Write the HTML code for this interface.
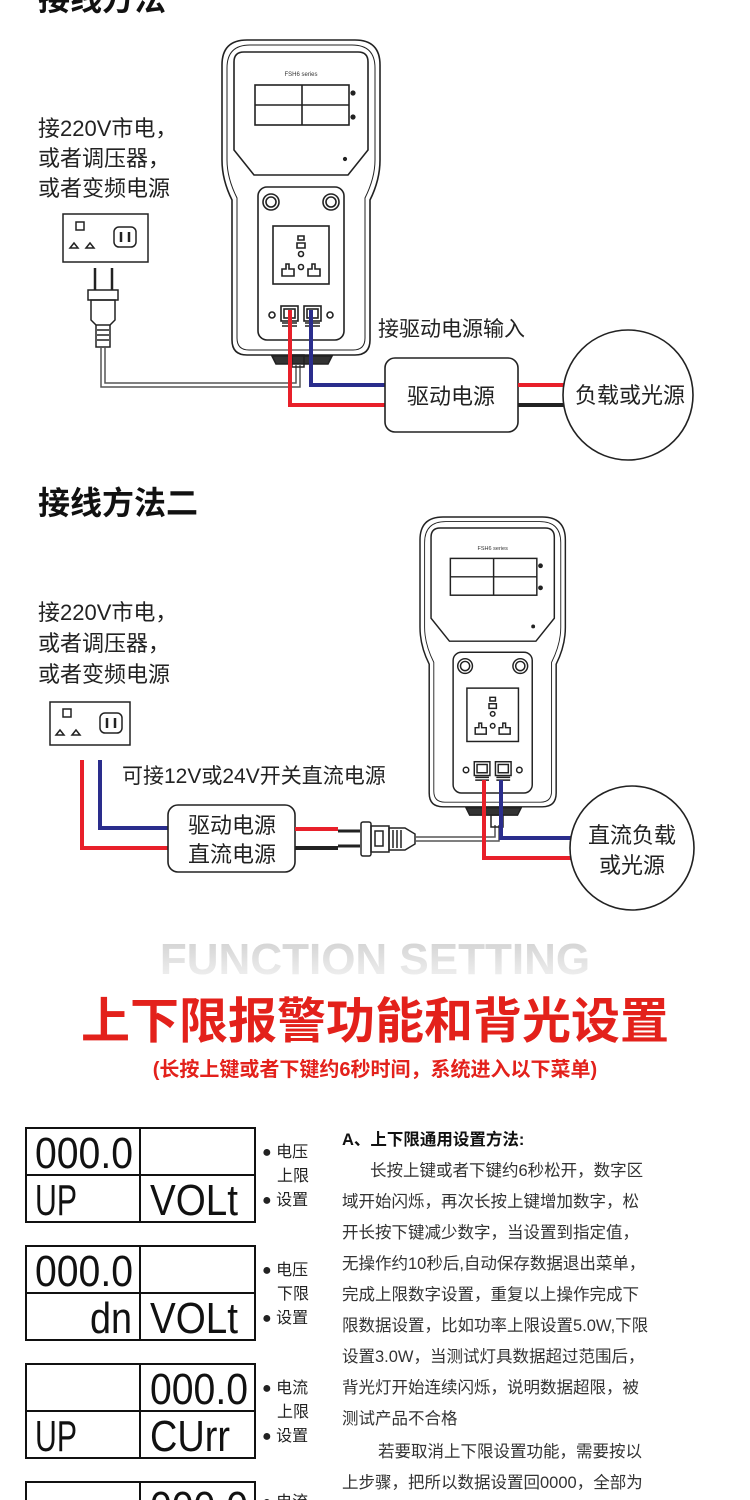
<!DOCTYPE html>
<html><head><meta charset="utf-8"><style>
html,body{margin:0;padding:0;background:#fff;}
svg{display:block;font-family:"Liberation Sans","Noto Sans CJK SC",sans-serif;}
</style></head><body>
<svg width="750" height="1500" viewBox="0 0 750 1500" xmlns="http://www.w3.org/2000/svg">
<defs>
<linearGradient id="fg" x1="0" y1="0" x2="0" y2="1"><stop offset="0" stop-color="#cfcfcf"/><stop offset="1" stop-color="#f4f4f4"/></linearGradient>
<g id="dev" fill="none" stroke="#222" stroke-width="1.6">
<path d="M25 0 H133 Q158 0 158 25 V120 Q158 140 148 160 V300 Q148 315 133 315 H25 Q10 315 10 300 V160 Q0 140 0 120 V25 Q0 0 25 0Z" fill="#fff"/>
<path d="M28 5 H130 Q153 5 153 28 V120 Q153 138 143 158 V298 Q143 310 131 310 H27 Q15 310 15 298 V158 Q5 138 5 120 V28 Q5 5 28 5Z" stroke-width="1"/>
<path d="M22 12 H136 Q146 12 146 22 V110 L126 135 H32 L12 110 V22 Q12 12 22 12Z"/>
<text x="79" y="36" font-size="6" fill="#333" stroke="none" text-anchor="middle">FSH6 series</text>
<rect x="33" y="45" width="94" height="40"/><line x1="80" y1="45" x2="80" y2="85"/><line x1="33" y1="65" x2="127" y2="65"/>
<circle cx="131" cy="53" r="1.8" fill="#222"/><circle cx="131" cy="77" r="1.8" fill="#222"/><circle cx="123" cy="119" r="1.3" fill="#222"/>
<rect x="36" y="147" width="86" height="153" rx="9"/>
<circle cx="49" cy="162" r="8"/><circle cx="49" cy="162" r="5"/><circle cx="109" cy="162" r="8"/><circle cx="109" cy="162" r="5"/>
<rect x="51" y="186" width="56" height="58"/>
<path d="M76 196 h6 v4 h-6z M75 203 h8 v5 h-8z"/><circle cx="79" cy="214" r="2.5"/><circle cx="79" cy="227" r="2.5"/>
<path d="M60 236 h12 v-7 h-5 v-5 h-3 v5 h-4z M86 236 h12 v-7 h-5 v-5 h-3 v5 h-4z"/>
<circle cx="50" cy="275" r="3"/><circle cx="108" cy="275" r="3"/>
<rect x="59" y="266" width="17" height="15"/><rect x="82" y="266" width="17" height="15"/>
<rect x="62" y="269" width="11" height="9"/><rect x="85" y="269" width="11" height="9"/>
<path d="M60 283h15M60 286h15M83 283h15M83 286h15"/>
<path d="M50 316 h60 l-4 8 h-52z" fill="#333"/>
</g>
</defs>

<text x="38" y="10" font-size="32" font-weight="bold" fill="#111">接线方法</text>

<use href="#dev" x="222" y="40"/>
<g font-size="22" fill="#222">
<text x="38" y="136">接220V市电，</text>
<text x="38" y="166">或者调压器，</text>
<text x="38" y="196">或者变频电源</text>
</g>
<g fill="none" stroke="#222" stroke-width="1.5">
<rect x="63" y="214" width="85" height="48"/>
<rect x="76" y="222" width="8" height="8"/><path d="M70 248 l4 -5 l4 5z M86 248 l4 -5 l4 5z"/>
<rect x="114" y="227" width="22" height="20" rx="5"/><path d="M121 232v10M129 232v10" stroke-width="2.5"/>
<path d="M95 268 v22 M112 268 v22" stroke-width="2.5"/>
<rect x="88" y="290" width="30" height="10"/><path d="M91 300 h24 v20 l-5 5 h-14 l-5 -5z"/>
<path d="M96 325 v22 h14 v-22M97 330h12M97 335h12M97 340h12"/>
<path d="M101 347 V387 H300 V365 M105 347 V383 H296 V365" stroke="#555"/>
<rect x="292" y="355" width="12" height="12"/>
</g>
<path d="M290 310 V405 H385" stroke="#e8202a" stroke-width="4" fill="none"/>
<path d="M311 310 V385 H385" stroke="#2a2d8c" stroke-width="4" fill="none"/>
<text x="378" y="336" font-size="21" fill="#222">接驱动电源输入</text>
<rect x="385" y="358" width="133" height="74" rx="10" fill="#fff" stroke="#222" stroke-width="1.6"/>
<text x="451" y="404" font-size="22" fill="#222" text-anchor="middle">驱动电源</text>
<path d="M518 385 H565" stroke="#e8202a" stroke-width="4"/>
<path d="M518 405 H565" stroke="#222" stroke-width="4"/>
<circle cx="628" cy="395" r="65" fill="#fff" stroke="#222" stroke-width="1.6"/>
<text x="630" y="403" font-size="22" fill="#222" text-anchor="middle">负载或光源</text>

<text x="38" y="514" font-size="32" font-weight="bold" fill="#111">接线方法二</text>
<use href="#dev" transform="translate(420,517) scale(0.92)"/>
<g font-size="22" fill="#222">
<text x="38" y="620">接220V市电，</text>
<text x="38" y="651">或者调压器，</text>
<text x="38" y="682">或者变频电源</text>
</g>
<g fill="none" stroke="#222" stroke-width="1.5">
<rect x="50" y="702" width="80" height="43"/>
<rect x="63" y="709" width="8" height="8"/><path d="M56 735 l4 -5 l4 5z M72 735 l4 -5 l4 5z"/>
<rect x="100" y="713" width="22" height="20" rx="5"/><path d="M107 718v10M115 718v10" stroke-width="2.5"/>
</g>
<path d="M82 760 V848 H168" stroke="#e8202a" stroke-width="4" fill="none"/>
<path d="M100 760 V828 H168" stroke="#2a2d8c" stroke-width="4" fill="none"/>
<text x="122" y="783" font-size="21" fill="#222">可接12V或24V开关直流电源</text>
<rect x="168" y="805" width="127" height="67" rx="10" fill="#fff" stroke="#222" stroke-width="1.6"/>
<text x="232" y="833" font-size="22" fill="#222" text-anchor="middle">驱动电源</text>
<text x="232" y="862" font-size="22" fill="#222" text-anchor="middle">直流电源</text>
<path d="M295 829 H338" stroke="#e8202a" stroke-width="4"/>
<path d="M295 848 H338" stroke="#222" stroke-width="4"/>
<g fill="none" stroke="#222" stroke-width="1.5">
<path d="M338 831 h22 M338 846 h22" stroke-width="3"/>
<rect x="361" y="822" width="10" height="34" rx="2"/><path d="M371 826 h18 v26 h-18z"/><rect x="375" y="831" width="8" height="15"/>
<path d="M389 828 h16 l10 6 v10 l-10 6 h-16z"/><path d="M393 830v18M397 830v18M401 830v18"/>
<path d="M415 837 H495 V825 M415 841 H499 V825" stroke="#555"/>
<rect x="491" y="815" width="12" height="12"/>
</g>
<path d="M484 780 V858 H572" stroke="#e8202a" stroke-width="4" fill="none"/>
<path d="M501 780 V838 H572" stroke="#2a2d8c" stroke-width="4" fill="none"/>
<circle cx="632" cy="848" r="62" fill="#fff" stroke="#222" stroke-width="1.6"/>
<text x="632" y="843" font-size="22" fill="#222" text-anchor="middle">直流负载</text>
<text x="632" y="873" font-size="22" fill="#222" text-anchor="middle">或光源</text>

<text x="375" y="974" font-size="44" font-weight="bold" fill="url(#fg)" text-anchor="middle">FUNCTION SETTING</text>
<text x="375" y="1038" font-size="49" font-weight="bold" fill="#e3211b" text-anchor="middle">上下限报警功能和背光设置</text>
<text x="375" y="1076" font-size="20" font-weight="bold" fill="#e3211b" text-anchor="middle">(长按上键或者下键约6秒时间，系统进入以下菜单)</text>

<g fill="none" stroke="#111" stroke-width="2">
<rect x="26" y="1128" width="229" height="94"/><line x1="26" y1="1175" x2="255" y2="1175"/><line x1="140" y1="1128" x2="140" y2="1222"/>
<rect x="26" y="1246" width="229" height="94"/><line x1="26" y1="1293" x2="255" y2="1293"/><line x1="140" y1="1246" x2="140" y2="1340"/>
<rect x="26" y="1364" width="229" height="94"/><line x1="26" y1="1411" x2="255" y2="1411"/><line x1="140" y1="1364" x2="140" y2="1458"/>
<rect x="26" y="1482" width="229" height="30"/><line x1="140" y1="1482" x2="140" y2="1500"/>
</g>
<g font-family="'Liberation Sans Narrow','Liberation Sans',sans-serif" font-size="44" fill="#111" lengthAdjust="spacingAndGlyphs">
<text x="35" y="1168" textLength="98" lengthAdjust="spacingAndGlyphs">000.0</text>
<text x="35" y="1215" textLength="42" lengthAdjust="spacingAndGlyphs">UP</text><text x="150" y="1215" textLength="88" lengthAdjust="spacingAndGlyphs">VOLt</text>
<text x="35" y="1286" textLength="98" lengthAdjust="spacingAndGlyphs">000.0</text>
<text x="90" y="1333" textLength="42" lengthAdjust="spacingAndGlyphs">dn</text><text x="150" y="1333" textLength="88" lengthAdjust="spacingAndGlyphs">VOLt</text>
<text x="150" y="1404" textLength="98" lengthAdjust="spacingAndGlyphs">000.0</text>
<text x="35" y="1451" textLength="42" lengthAdjust="spacingAndGlyphs">UP</text><text x="150" y="1451" textLength="80" lengthAdjust="spacingAndGlyphs">CUrr</text>
<text x="150" y="1522" textLength="98" lengthAdjust="spacingAndGlyphs">000.0</text>
</g>
<g font-size="16" fill="#222">
<text x="262" y="1157">● 电压</text><text x="277" y="1181">上限</text><text x="262" y="1205">● 设置</text>
<text x="262" y="1275">● 电压</text><text x="277" y="1299">下限</text><text x="262" y="1323">● 设置</text>
<text x="262" y="1393">● 电流</text><text x="277" y="1417">上限</text><text x="262" y="1441">● 设置</text>
<text x="262" y="1507">● 电流</text>
</g>
<g font-size="16.5" fill="#333">
<text x="342" y="1145" font-weight="bold" fill="#111">A、上下限通用设置方法:</text>
<text x="370" y="1176">长按上键或者下键约6秒松开，数字区</text>
<text x="342" y="1207">域开始闪烁，再次长按上键增加数字，松</text>
<text x="342" y="1238">开长按下键减少数字，当设置到指定值，</text>
<text x="342" y="1269">无操作约10秒后,自动保存数据退出菜单，</text>
<text x="342" y="1300">完成上限数字设置，重复以上操作完成下</text>
<text x="342" y="1331">限数据设置，比如功率上限设置5.0W,下限</text>
<text x="342" y="1362">设置3.0W，当测试灯具数据超过范围后，</text>
<text x="342" y="1393">背光灯开始连续闪烁，说明数据超限，被</text>
<text x="342" y="1424">测试产品不合格</text>
<text x="378" y="1457">若要取消上下限设置功能，需要按以</text>
<text x="342" y="1488">上步骤，把所以数据设置回0000，全部为</text>
</g>
</svg>
</body></html>
